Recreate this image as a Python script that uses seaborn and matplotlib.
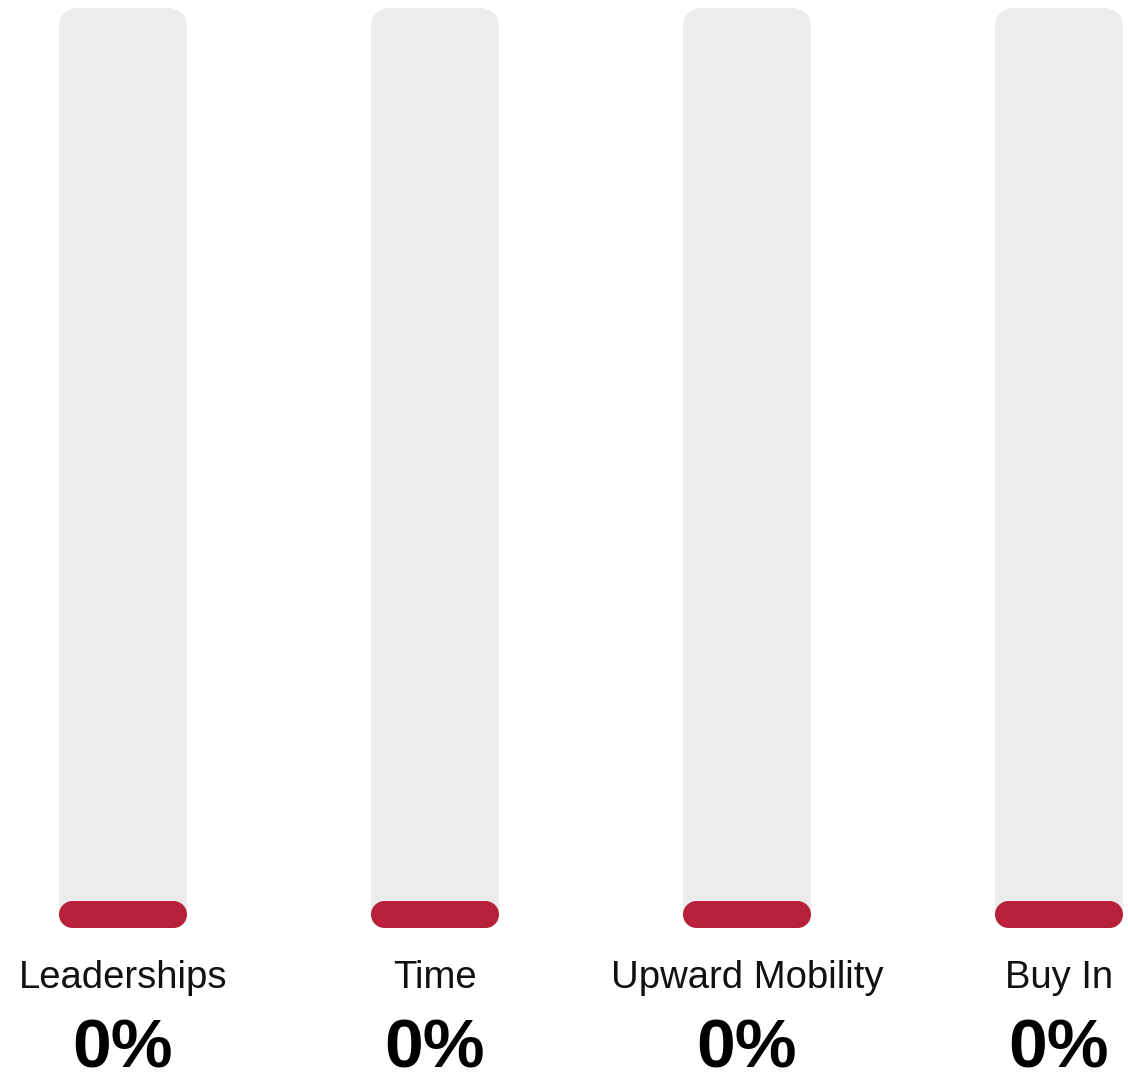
import matplotlib
matplotlib.use("Agg")
import numpy as np
import matplotlib.pyplot as plt
import seaborn as sns
from matplotlib.patches import Polygon

categories = ["Leaderships", "Time", "Upward Mobility", "Buy In"]
values = [0, 0, 0, 0]          # percent
track_max = 100

sns.set_theme(style="white")
plt.rcParams['font.family'] = ['Liberation Sans', 'DejaVu Sans']

W, H, DPI = 1128, 1081, 100
fig = plt.figure(figsize=(W / DPI, H / DPI), dpi=DPI)

top_px, bot_px = 8, 928
ax = fig.add_axes([0, (H - bot_px) / H, 1, (bot_px - top_px) / H])
spacing = 312.0
c0 = 123.0
bar_w = 128 / spacing
xlim = (-c0 / spacing, 3 + (W - (c0 + 3 * spacing)) / spacing)

ypp = track_max / (bot_px - top_px)   # y units per pixel
xpp = 1 / spacing                     # x units per pixel

min_h = 27 * ypp  # minimum visible height for the value bar
disp = [max(v, min_h) for v in values]

sns.barplot(x="cat", y="v", data={"cat": categories, "v": [track_max] * len(categories)},
            color="#ececec", width=bar_w, ax=ax, saturation=1)
n_track = len(ax.patches)
sns.barplot(x="cat", y="v", data={"cat": categories, "v": disp},
            color="#b8213b", width=bar_w, ax=ax, saturation=1)
ax.set_xlim(*xlim)
ax.set_ylim(0, track_max)
ax.axis("off")


def rounded(x, y, w, h, r_top, r_bot):
    """Rounded rectangle polygon; radii in pixels, geometry in data units."""
    t = np.linspace(0, np.pi / 2, 24)
    rx_t, ry_t = r_top * xpp, r_top * ypp
    rx_b, ry_b = r_bot * xpp, r_bot * ypp
    pts = [(x + rx_b - rx_b * np.cos(a), y + ry_b - ry_b * np.sin(a)) for a in t]
    pts += [(x + w - rx_b + rx_b * np.sin(a), y + ry_b - ry_b * np.cos(a)) for a in t]
    pts += [(x + w - rx_t + rx_t * np.cos(a), y + h - ry_t + ry_t * np.sin(a)) for a in t]
    pts += [(x + rx_t - rx_t * np.sin(a), y + h - ry_t + ry_t * np.cos(a)) for a in t]
    return np.array(pts)


for i, p in enumerate(list(ax.patches)):
    x, y = p.get_x(), p.get_y()
    w, h = p.get_width(), p.get_height()
    fc = p.get_facecolor()
    p.remove()
    if i < n_track:
        verts = rounded(x, y + 13.5 * ypp, w, h - 13.5 * ypp, 18, 0)
        ax.add_patch(Polygon(verts, closed=True, fc=fc, ec="none", zorder=1))
    else:
        rr = h / ypp / 2
        verts = rounded(x, y, w, h, rr, rr)
        ax.add_patch(Polygon(verts, closed=True, fc=fc, ec="none", zorder=2))

for i, (c, v) in enumerate(zip(categories, values)):
    ax.text(i, -(988 - bot_px) * ypp, c, ha="center", va="baseline",
            fontsize=27.5, color="#111111", clip_on=False)
    ax.text(i, -(1068 - bot_px) * ypp, f"{v}%", ha="center", va="baseline",
            fontsize=50, fontweight="bold", color="#000000", clip_on=False)

fig.savefig("out.png", dpi=DPI)
